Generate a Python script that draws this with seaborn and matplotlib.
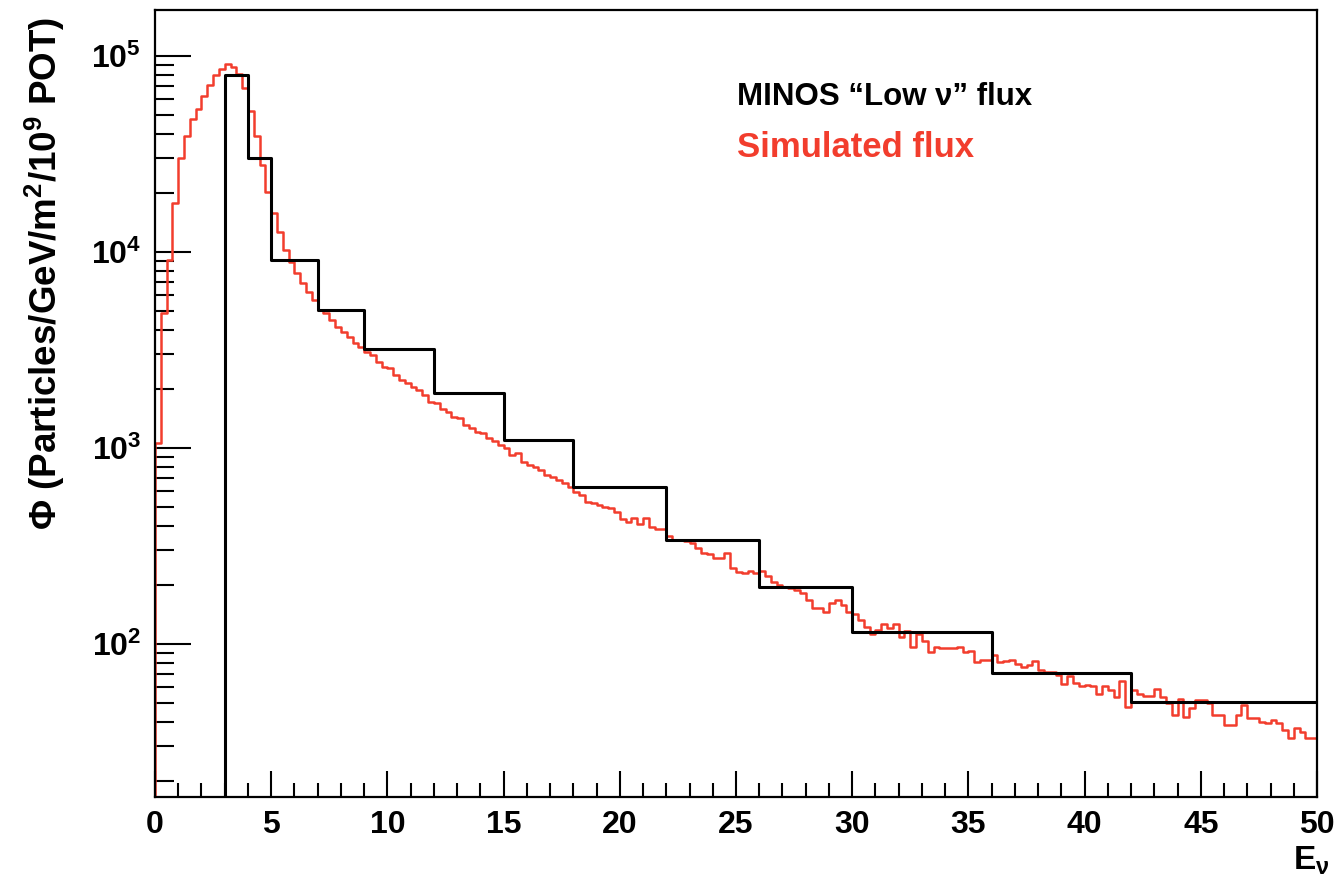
import numpy as np
import pandas as pd
import matplotlib
matplotlib.use("Agg")
import matplotlib.pyplot as plt
import seaborn as sns
from matplotlib.ticker import LogLocator, MultipleLocator, NullFormatter, FuncFormatter

# ---------------- data ----------------
# MINOS "Low nu" flux (variable bins, GeV)
minos_edges = [3, 4, 5, 7, 9, 12, 15, 18, 22, 26, 30, 36, 42, 50]
minos_flux = [80000, 30000, 9100, 5060, 3200, 1900, 1100, 632, 340, 195, 115, 71, 50.6]

# Simulated flux: 200 bins of 0.25 GeV over 0-50 GeV
sim_range = (0.0, 50.0)
sim_nbins = 200
sim_flux = [
    1060, 4900, 9100, 17800, 30200, 39100, 47700, 53700, 62600, 71100,
    80000, 85500, 90700, 88200, 81000, 68700, 52400, 39200, 27800, 20300,
    15800, 12700, 10200, 8930, 7780, 6920, 6280, 5690, 5060, 4870,
    4500, 4160, 3920, 3700, 3420, 3290, 3100, 2980, 2750, 2600,
    2550, 2360, 2220, 2140, 2040, 1980, 1860, 1720, 1700, 1590,
    1530, 1440, 1420, 1310, 1260, 1210, 1190, 1120, 1080, 1035,
    995, 920, 940, 851, 818, 802, 773, 728, 714, 687,
    660, 635, 599, 576, 532, 522, 512, 500, 492, 473,
    433, 421, 438, 410, 438, 397, 385, 385, 356, 340,
    340, 337, 326, 308, 292, 288, 274, 274, 290, 243,
    234, 231, 237, 230, 235, 221, 208, 200, 195, 193,
    189, 181, 168, 152, 152, 145, 161, 168, 158, 146,
    143, 132, 122, 113, 118, 126, 120, 127, 109, 116,
    97, 113, 103, 91, 97, 95, 95, 95, 97, 91,
    92, 81, 83, 83, 88, 81, 82, 83, 79, 76,
    78, 82, 74, 72, 72, 69.5, 62.5, 68.7, 63, 60.7,
    61.8, 61, 55.6, 60.7, 58.2, 53.8, 65, 47.9, 58.2, 55.6,
    54.3, 54.3, 58.7, 53.8, 49.8, 43.4, 52.2, 42.6, 47, 51.7,
    51.7, 50.2, 43.4, 43.4, 38.6, 38.6, 43.4, 48.9, 41.8, 41.8,
    40.2, 39.4, 41, 39.4, 36.4, 33, 37.2, 35.7, 33, 33,
]

x_major = [0, 5, 10, 15, 20, 25, 30, 35, 40, 45, 50]
y_decades = [2, 3, 4, 5]

minos_label = "MINOS \u201cLow \u03bd\u201d flux"
sim_label = "Simulated flux"
y_title = "\u03a6 (Particles/GeV/m$^{2}$/10$^{9}$ POT)"
x_title = r"E$_{\nu}$"

# ---------------- style ----------------
sns.set_style("ticks")
base_font = "Liberation Sans"
plt.rcParams["font.family"] = [base_font, "DejaVu Sans"]
plt.rcParams["font.weight"] = "bold"
plt.rcParams["mathtext.fontset"] = "custom"
plt.rcParams["mathtext.rm"] = base_font + ":bold"
plt.rcParams["mathtext.bf"] = base_font + ":bold"
plt.rcParams["mathtext.it"] = base_font + ":bold"
plt.rcParams["mathtext.sf"] = base_font + ":bold"
plt.rcParams["mathtext.default"] = "bf"
for key in ["text.color", "axes.labelcolor", "xtick.color", "ytick.color",
            "xtick.labelcolor", "ytick.labelcolor", "axes.edgecolor"]:
    plt.rcParams[key] = "black"

RED = "#f23d2d"

fig = plt.figure(figsize=(13.34, 8.8), dpi=100)
W, H = 1334, 880
ax = fig.add_axes([155 / W, (H - 797) / H, 1162 / W, 787 / H])

sim_edges = list(np.linspace(sim_range[0], sim_range[1], sim_nbins + 1))
sim_centers = [0.5 * (a + b) for a, b in zip(sim_edges[:-1], sim_edges[1:])]
sim_df = pd.DataFrame({"E": sim_centers, "flux": sim_flux})

me = [float(v) for v in minos_edges]
minos_df = pd.DataFrame({"E": [0.5 * (a + b) for a, b in zip(me[:-1], me[1:])],
                         "flux": minos_flux})

sns.histplot(data=sim_df, x="E", weights="flux", bins=sim_edges,
             element="step", fill=False, color=RED, linewidth=1.8, ax=ax)
sns.histplot(data=minos_df, x="E", weights="flux", bins=me,
             element="step", fill=False, color="black", linewidth=2.2, ax=ax)

ax.set_yscale("log")
ymin, ymax = 16.57, 171700
ax.set_xlim(sim_range)
ax.set_ylim(ymin, ymax)

# rising edges of both histograms from the bottom of the frame
ax.vlines(sim_edges[0], ymin, sim_flux[0], color=RED, linewidth=1.8)
ax.vlines(me[0], ymin, minos_flux[0], color="black", linewidth=2.2)

# ticks
ax.xaxis.set_major_locator(plt.FixedLocator(x_major))
ax.xaxis.set_minor_locator(MultipleLocator(1))
ax.yaxis.set_major_locator(plt.FixedLocator([10.0 ** d for d in y_decades]))
ax.yaxis.set_minor_locator(LogLocator(base=10, subs=np.arange(2, 10)))
ax.yaxis.set_minor_formatter(NullFormatter())
ax.yaxis.set_major_formatter(FuncFormatter(lambda v, p: r"$10^{%d}$" % int(round(np.log10(v)))))
ax.xaxis.set_major_formatter(FuncFormatter(lambda v, p: "%d" % v))

ax.tick_params(which="both", direction="in", top=False, right=False, width=1.5,
               color="black", labelcolor="black")
ax.tick_params(axis="y", which="major", length=26, pad=10, labelsize=23)
ax.tick_params(axis="y", which="minor", length=14)
ax.tick_params(axis="x", which="major", length=19, pad=9, labelsize=23)
ax.tick_params(axis="x", which="minor", length=10)
for lab in ax.get_xticklabels() + ax.get_yticklabels():
    lab.set_fontweight("bold")

for s in ax.spines.values():
    s.set_linewidth(1.6)
    s.set_color("black")
    s.set_visible(True)

ax.set_ylabel("")
ax.set_xlabel("")

fig.text(45 / W, 1 - 17 / H, y_title, rotation=90, ha="center", va="top",
         fontsize=26.5, fontweight="bold", color="black")
fig.text(1330 / W, 1 - 870 / H, x_title, ha="right", va="baseline",
         fontsize=24, fontweight="bold", color="black")

ax.text(0.501, 0.879, minos_label, transform=ax.transAxes, ha="left", va="baseline",
        fontsize=22.5, fontweight="bold", color="black")
ax.text(0.501, 0.813, sim_label, transform=ax.transAxes, ha="left", va="baseline",
        fontsize=25, fontweight="bold", color=RED)

fig.savefig("out.png", dpi=100, facecolor="white")
